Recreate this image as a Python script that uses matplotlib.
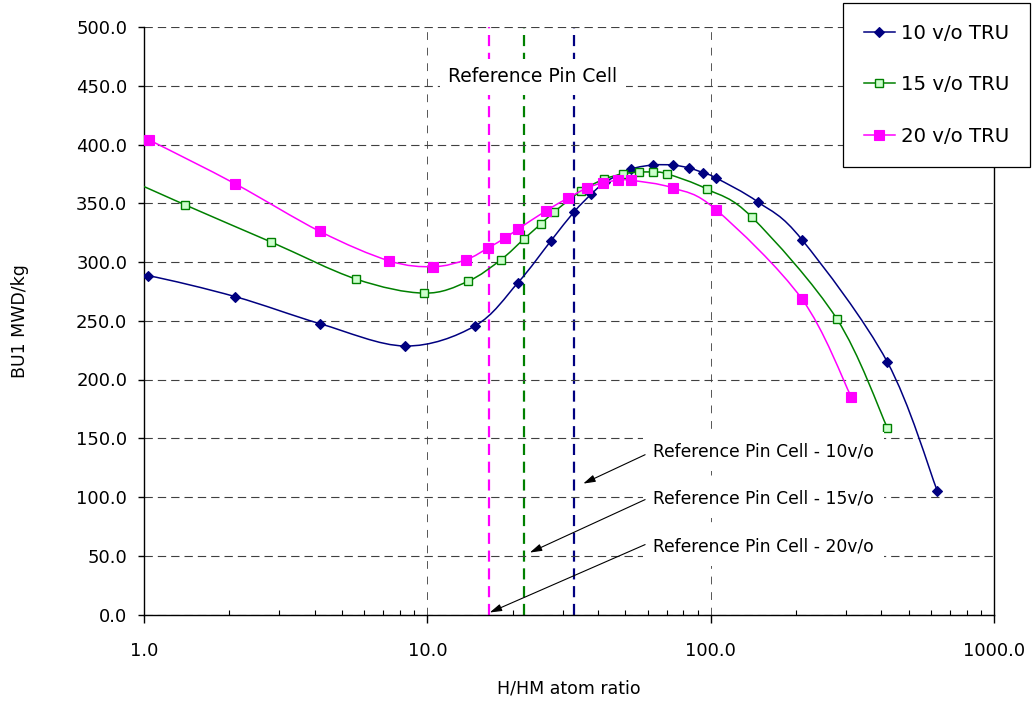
import numpy as np
import matplotlib
matplotlib.use("Agg")
import matplotlib.pyplot as plt
from matplotlib.path import Path
from matplotlib.patches import PathPatch
from matplotlib.lines import Line2D
from matplotlib.ticker import FixedLocator, FuncFormatter, LogLocator, NullFormatter

# --- data (first point of each series lies left of x=1) ---
x_10 = [0.70, 1.03, 2.10, 4.18, 8.34, 14.7, 20.9, 27.3, 32.9, 37.8, 42.5, 52.4, 62.6,
        73.6, 84.0, 94.0, 104.5, 147, 210, 420, 630]
bu_10 = [293.0, 288.5, 270.5, 247.5, 228.5, 245.5, 282.5, 318.0, 342.5, 357.5, 368.0,
         379.0, 382.5, 382.5, 380.0, 376.0, 371.5, 351.0, 319.0, 215.0, 105.5]

x_15 = [0.70, 1.40, 2.81, 5.60, 9.73, 13.9, 18.2, 21.9, 25.2, 28.0, 34.9, 42.1, 49.1,
        55.9, 62.7, 70.2, 97.1, 140, 279, 420]
bu_15 = [381.0, 348.5, 317.0, 285.5, 273.5, 283.5, 302.0, 319.5, 332.5, 342.5, 360.5,
         370.5, 375.0, 376.5, 376.5, 375.0, 362.0, 338.0, 251.5, 159.0]

x_20 = [0.70, 1.04, 2.10, 4.18, 7.33, 10.5, 13.7, 16.4, 18.8, 20.9, 26.2, 31.4, 36.6,
        41.7, 47.1, 52.4, 73.6, 104.5, 210, 313]
bu_20 = [424.0, 404.0, 366.5, 326.0, 301.0, 296.0, 302.0, 312.0, 320.5, 328.0, 343.5,
         354.5, 363.0, 367.5, 369.5, 369.5, 363.0, 344.5, 268.5, 185.5]

series_labels = ["10 v/o TRU", "15 v/o TRU", "20 v/o TRU"]
ref_pin_x = [33.0, 21.9, 16.5]          # reference pin cell H/HM for 10, 15, 20 v/o
ref_labels = ["Reference Pin Cell - 10v/o", "Reference Pin Cell - 15v/o",
              "Reference Pin Cell - 20v/o"]

x_ticks = [1, 10, 100, 1000]
y_ticks = list(range(0, 501, 50))

navy = "#000080"
green = "#008000"
magenta = "#ff00ff"
font = ["DejaVu Sans"]


def smooth_path(xs, ys):
    # Excel-style smoothed line: cubic Bezier through every point (log x space)
    pts = np.column_stack([np.log10(xs), ys])
    n = len(pts)
    verts = [pts[0]]
    codes = [Path.MOVETO]
    for i in range(n - 1):
        p0 = pts[i - 1] if i > 0 else pts[i]
        p3 = pts[i + 2] if i + 2 < n else pts[i + 1]
        c1 = pts[i] + (pts[i + 1] - p0) / 6.0
        c2 = pts[i + 1] - (p3 - pts[i]) / 6.0
        verts += [c1, c2, pts[i + 1]]
        codes += [Path.CURVE4] * 3
    verts = np.array(verts)
    verts[:, 0] = 10 ** verts[:, 0]
    return Path(verts, codes)


fig = plt.figure(figsize=(10.35, 7.08), dpi=100)
ax = fig.add_axes([144 / 1035, 1 - 614.5 / 708, 850 / 1035, 587.5 / 708])
ax.set_xscale("log")
ax.set_xlim(1, 1000)
ax.set_ylim(0, 500)

# grid
ax.set_yticks(y_ticks)
ax.yaxis.grid(True, linestyle=(0, (7.5, 4.5)), color="#404040", lw=0.8)
for gx in x_ticks[1:-1]:
    ax.axvline(gx, color="#555555", lw=0.7, linestyle=(0, (8, 8)), zorder=0.5)

# reference pin cell lines
for rx, c in zip(ref_pin_x, [navy, green, magenta]):
    ax.axvline(rx, color=c, lw=1.6, linestyle=(0, (5, 3)), zorder=1.5)

styles = [
    dict(color=navy, marker="D", ms=5.0, mfc=navy, mec=navy, mew=0.8),
    dict(color=green, marker="s", ms=6.4, mfc="#ccffcc", mec=green, mew=1.0),
    dict(color=magenta, marker="s", ms=7.2, mfc=magenta, mec=magenta, mew=0.8),
]
data = [(x_10, bu_10), (x_15, bu_15), (x_20, bu_20)]
handles = []
for k, ((xs, ys), st) in enumerate(zip(data, styles)):
    ax.add_patch(PathPatch(smooth_path(xs, ys), fill=False, edgecolor=st["color"],
                           lw=1.1, zorder=3 + k))
    ax.plot(xs, ys, linestyle="none", marker=st["marker"], ms=st["ms"], mfc=st["mfc"],
            mec=st["mec"], mew=st["mew"], zorder=3.5 + k)
    handles.append(Line2D([], [], color=st["color"], lw=1.1, marker=st["marker"],
                          ms=st["ms"], mfc=st["mfc"], mec=st["mec"], mew=st["mew"]))

# axes styling
ax.spines["top"].set_visible(False)
for side in ["left", "bottom", "right"]:
    ax.spines[side].set_linewidth(1.0)
ax.xaxis.set_major_locator(FixedLocator(x_ticks))
ax.xaxis.set_minor_locator(LogLocator(base=10, subs=np.arange(2, 10)))
ax.xaxis.set_minor_formatter(NullFormatter())
ax.xaxis.set_major_formatter(FuncFormatter(lambda v, p: f"{v:.1f}"))
ax.yaxis.set_major_formatter(FuncFormatter(lambda v, p: f"{v:.1f}"))
ax.tick_params(axis="x", which="major", direction="out", length=6, width=1, pad=14,
               labelsize=13)
ax.tick_params(axis="x", which="minor", direction="in", length=3.5, width=0.8)
ax.tick_params(axis="y", which="major", direction="out", length=4, width=1, pad=8,
               labelsize=13)
for lbl in ax.get_xticklabels() + ax.get_yticklabels():
    lbl.set_family(font)

ax.set_xlabel("H/HM atom ratio", fontsize=12.5, family=font)
ax.xaxis.set_label_coords(0.5, -0.11)
ax.set_ylabel("BU1 MWD/kg", fontsize=12.5, family=font)
ax.yaxis.set_label_coords(-0.135, 0.5)

# annotations
ax.text(23.6, 457.5, "Reference Pin Cell", fontsize=13.5, family=font, ha="center",
        va="center", zorder=6,
        bbox=dict(boxstyle="square,pad=0.45", fc="white", ec="none"))
text_y = [138.6, 98.6, 57.8]
head_pos = [(35.5, 111.4), (23.0, 52.7), (16.6, 1.7)]
tail_y = [136, 97.8, 59.5]
for lab, ty, hp, tl in zip(ref_labels, text_y, head_pos, tail_y):
    ax.text(62.6, ty, lab, fontsize=12.3, family=font, ha="left", va="center", zorder=6,
            bbox=dict(boxstyle="square,pad=0.6", fc="white", ec="none"))
    ax.annotate("", xy=hp, xytext=(58.7, tl), zorder=7,
                arrowprops=dict(arrowstyle="-|>,head_length=0.6,head_width=0.18",
                                color="black", lw=0.8, shrinkA=0, shrinkB=0,
                                mutation_scale=12))

leg = fig.legend(handles, series_labels, loc="upper left",
                 bbox_to_anchor=(843 / 1035, 1 - 3 / 708), prop=dict(family=font, size=14.2),
                 frameon=True, fancybox=False, edgecolor="black", framealpha=1,
                 borderpad=1.05, labelspacing=1.65, handlelength=1.6, handletextpad=0.3,
                 borderaxespad=0)
leg.get_frame().set_linewidth(0.9)

fig.savefig("out.png", dpi=100)
